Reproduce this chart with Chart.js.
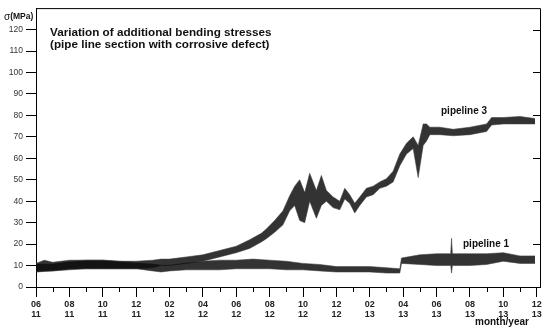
<!DOCTYPE html>
<html>
<head>
<meta charset="utf-8">
<script src="https://cdn.jsdelivr.net/npm/chart.js@4.4.0/dist/chart.umd.min.js"></script>
<style>
  body { margin: 0; background: #fff; }
  #box { width: 550px; height: 332px; }
</style>
</head>
<body>
<div id="box"><canvas id="myChart"></canvas></div>
<script>
// month index: 0 = 06/2011 ... 30 = 12/2013
const monthLabels = ['06', '08', '10', '12', '02', '04', '06', '08', '10', '12', '02', '04', '06', '08', '10', '12'];
const yearLabels  = ['11', '11', '11', '11', '12', '12', '12', '12', '12', '12', '13', '13', '13', '13', '13', '13'];

// pipeline 3: lower / upper edge of the noisy trace
const p3Month = [0, 0.5, 1, 1.5, 2, 3, 4, 5, 6, 7, 7.5, 8, 9, 10, 11, 12, 12.8, 13.5, 13.8, 14.3, 14.8, 15.2, 15.5, 15.8, 16.1, 16.4, 16.8, 17.1, 17.4, 17.8, 18.2, 18.5, 18.8, 19.1, 19.4, 19.8, 20.2, 20.6, 21.0, 21.4, 21.8, 22.2, 22.6, 22.9, 23.2, 23.4, 23.6, 24.2, 25, 26, 27, 27.3, 28, 29, 29.9];
const p3Low   = [7, 7.5, 7.5, 8, 8.5, 8.5, 8.5, 8.5, 8.5, 9, 10, 10, 11, 12, 14, 16, 18, 21, 22.5, 25.5, 29, 35.5, 38, 31, 30, 40, 32, 38, 40, 37, 36, 41, 39, 34.5, 38, 42, 43, 46, 47, 49, 56.5, 62, 64.5, 51, 66, 68, 71, 71, 70.5, 71, 72.5, 75.5, 76, 76, 76];
const p3High  = [11, 12.5, 11.5, 12, 12.5, 12.5, 12.5, 12, 12, 12.5, 13, 13, 14, 15, 17, 19, 22, 25, 27, 31, 35.5, 42.5, 47, 50, 44, 53, 45, 52, 45, 42, 40, 46, 43, 39, 42, 46, 47, 49, 50.5, 54, 62, 67, 70, 66, 76, 76, 74.5, 74.5, 73.5, 74.5, 76, 79, 79, 79.5, 78.5];

// pipeline 1: lower / upper edge of the noisy trace
const p1Month = [0, 1, 2, 3, 4, 5, 6, 7, 7.5, 8, 9, 10, 11, 12, 13, 14, 15, 16, 17, 18, 19, 20, 21, 21.8, 21.9, 23, 24, 24.85, 24.9, 24.95, 26, 27, 28, 29, 29.9];
const p1Low   = [7, 7.5, 8, 8.5, 8.5, 8.5, 8.5, 7.5, 7, 7.5, 8, 8, 8, 8.5, 8.5, 8.5, 8, 8, 7.5, 7, 7, 7, 6.5, 6.5, 11, 10.5, 10, 10, 6.5, 10, 10, 10.5, 12, 11, 11];
const p1High  = [11, 11, 12, 12.5, 12.5, 12, 11.5, 11, 10.5, 10.5, 11.5, 12, 12.5, 12.5, 13, 12.5, 12, 11, 10.5, 9.5, 9.5, 9.5, 9, 8.5, 13.5, 15, 15.5, 15.5, 22.7, 15.5, 15.5, 15.5, 16, 14.5, 14.5];

const yTicks = [0, 10, 20, 30, 40, 50, 60, 70, 80, 90, 100, 110, 120];
const rightTicks = [20, 40, 60, 80, 100, 120];

const FONT = 'Liberation Sans, Arial, Helvetica, sans-serif';

const toPoints = (xs, ys) => xs.map((x, i) => ({ x: x, y: ys[i] }));

const edge = (data, fill) => ({
    data: data,
    fill: fill,
    backgroundColor: 'rgba(15,15,15,0.85)',
    borderColor: 'rgba(60,60,60,0.55)',
    borderWidth: 1,
    pointRadius: 0,
    tension: 0
});

// frame, minor ticks and text labels drawn on top
const decorations = {
    id: 'decorations',
    afterDraw(chart) {
        const { ctx, chartArea: a, scales: { x, y } } = chart;
        ctx.save();
        ctx.strokeStyle = '#000';
        ctx.lineWidth = 1;
        ctx.beginPath();
        ctx.moveTo(a.left, a.top + 0.5);
        ctx.lineTo(a.right + 0.5, a.top + 0.5);
        ctx.lineTo(a.right + 0.5, a.bottom);
        rightTicks.forEach(v => {
            const py = Math.round(y.getPixelForValue(v)) + 0.5;
            ctx.moveTo(a.right, py);
            ctx.lineTo(a.right - 7, py);
        });
        for (let m = 1; m < 30; m += 2) {
            const px = Math.round(x.getPixelForValue(m)) + 0.5;
            ctx.moveTo(px, a.bottom);
            ctx.lineTo(px, a.bottom + 5);
        }
        ctx.stroke();

        ctx.fillStyle = '#111';
        ctx.textBaseline = 'middle';
        ctx.font = 'bold 11.7px ' + FONT;
        ctx.fillText('Variation of additional bending stresses', 50, 33);
        ctx.fillText('(pipe line section with corrosive defect)', 50, 45);

        ctx.font = 'bold 10px ' + FONT;
        ctx.fillText('pipeline 3', 441, 111);
        ctx.fillText('pipeline 1', 463, 244);
        ctx.fillText('month/year', 475, 322);

        ctx.font = '10px ' + FONT;
        ctx.fillText('σ', 4, 17);
        const w = ctx.measureText('σ').width;
        ctx.font = 'bold 8.5px ' + FONT;
        ctx.fillText('(MPa)', 4 + w, 17);
        ctx.restore();
    }
};

new Chart(document.getElementById('myChart'), {
    type: 'line',
    data: {
        datasets: [
            edge(toPoints(p1Month, p1Low), false),
            edge(toPoints(p1Month, p1High), '-1'),
            edge(toPoints(p3Month, p3Low), false),
            edge(toPoints(p3Month, p3High), '-1')
        ]
    },
    options: {
        responsive: true,
        maintainAspectRatio: false,
        animation: false,
        layout: { padding: { top: 7, right: 10, left: 0, bottom: 0 } },
        plugins: { legend: { display: false }, tooltip: { enabled: false } },
        scales: {
            x: {
                type: 'linear',
                min: 0,
                max: 30.2,
                afterFit: s => { s.height = 45; },
                border: { display: true, color: '#000', width: 1 },
                grid: { drawOnChartArea: false, drawTicks: true, tickLength: 10, color: '#000' },
                ticks: {
                    stepSize: 2,
                    includeBounds: false,
                    maxRotation: 0,
                    autoSkip: false,
                    padding: 2,
                    color: '#222',
                    font: { family: FONT, size: 9, weight: 'bold', lineHeight: 1.15 },
                    callback: v => {
                        const i = v / 2;
                        return [monthLabels[i], yearLabels[i]];
                    }
                }
            },
            y: {
                min: 0,
                max: 130,
                afterFit: s => { s.width = 36; },
                border: { display: true, color: '#000', width: 1 },
                grid: { drawOnChartArea: false, drawTicks: true, tickLength: 10, color: '#000' },
                afterBuildTicks: s => { s.ticks = yTicks.map(v => ({ value: v })); },
                ticks: {
                    padding: 3,
                    color: '#333',
                    font: { family: FONT, size: 8.5 },
                    callback: v => v
                }
            }
        }
    },
    plugins: [decorations]
});
</script>
</body>
</html>
